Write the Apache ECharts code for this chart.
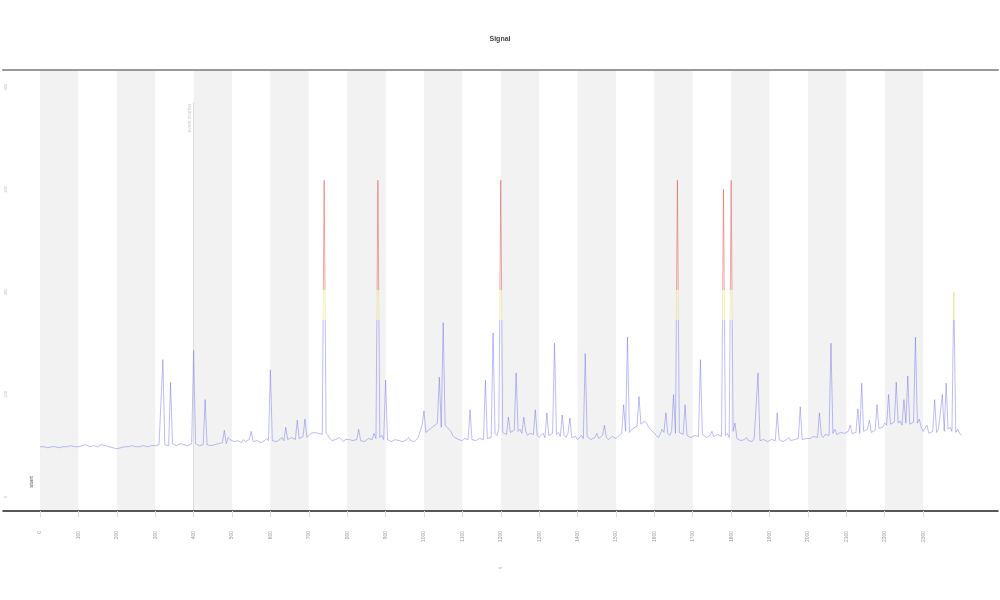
<!DOCTYPE html>
<html>
<head>
<meta charset="utf-8">
<title>Signal</title>
<script src="https://cdn.jsdelivr.net/npm/echarts@6/dist/echarts.min.js"></script>
<style>
  html, body { margin: 0; padding: 0; background: #fff; }
  #chart { width: 1000px; height: 600px; }
</style>
</head>
<body>
<div id="chart"></div>
<script>
// one reading every 5 units of t
var xStep = 5;
var readings = [
    49,48, 49,49, 48,49, 49,50, 49,49, 48,49, 49,48, 49,50, 50,49, 49,49,
    49,50, 50,49, 51,50, 49,49, 50,51, 49,50, 51,50, 50,49, 49,48, 48,47,
    47,47, 48,49, 49,48, 49,50, 50,49, 49,50, 49,49, 50,50, 49,50, 50,51,
    50,51, 51,50, 134,51, 52,50, 112,52, 51,50, 50,52, 52,51, 51,50, 50,52,
    143,52, 51,50, 50,51, 95,51, 52,50, 50,51, 51,52, 52,53, 65,52, 58,56,
    55,54, 53,55, 54,53, 56,54, 53,56, 64,54, 54,55, 55,53, 53,55, 57,55,
    124,55, 55,54, 54,56, 58,55, 68,56, 56,58, 57,56, 75,57, 58,59, 76,58,
    60,62, 61,63, 64,62, 62,61, 309,62, 60,57, 55,56, 56,55, 58,56, 54,56,
    55,56, 57,55, 54,56, 66,55, 56,54, 55,57, 58,56, 62,57, 309,58, 60,56,
    114,56, 55,54, 54,56, 57,55, 56,54, 53,56, 58,55, 55,54, 54,58, 57,70,
    84,63, 62,66, 67,69, 70,72, 117,68, 170,70, 68,66, 64,60, 58,57, 56,55,
    55,57, 57,56, 85,56, 56,55, 54,57, 58,56, 114,57, 57,58, 160,62, 60,66,
    309,63, 64,61, 78,63, 62,65, 121,64, 66,62, 78,64, 60,62, 63,61, 85,60,
    58,60, 62,58, 82,60, 60,62, 150,61, 63,59, 80,60, 58,62, 77,58, 57,59,
    56,58, 60,57, 140,59, 58,56, 55,58, 62,57, 57,60, 70,58, 56,57, 59,58,
    57,59, 60,62, 90,64, 156,63, 62,67, 66,69, 98,71, 70,74, 72,68, 66,65,
    62,60, 58,61, 66,63, 82,62, 60,64, 100,62, 309,63, 64,61, 90,60, 60,58,
    58,60, 60,59, 134,61, 62,58, 57,60, 64,59, 58,61, 60,59, 300,60, 62,58,
    309,64, 72,57, 56,55, 54,56, 58,55, 55,54, 57,56, 121,55, 55,56, 56,54,
    54,56, 57,55, 82,56, 55,54, 53,56, 58,55, 54,56, 56,57, 88,56, 55,57,
    58,57, 56,59, 60,58, 82,60, 58,61, 62,60, 150,62, 66,61, 60,63, 63,62,
    62,64, 70,62, 61,63, 86,62, 111,64, 64,66, 75,63, 62,65, 90,67, 66,68,
    72,70, 100,71, 70,73, 112,72, 74,70, 95,72, 118,71, 70,73, 156,72, 76,68,
    64,63, 70,62, 62,64, 95,63, 66,65, 100,64, 111,66, 68,64, 200,63, 66,62,
    60
];
var xTicks = [0, 100, 200, 300, 400, 500, 600, 700, 800, 900, 1000, 1100,
    1200, 1300, 1400, 1500, 1600, 1700, 1800, 1900, 2000, 2100, 2200, 2300];
var yTicks = [0, 100, 200, 300, 400];
var eventX = 400;
var eventTop = 385;
var eventName = 'event marker';

var seriesData = readings.map(function (v, i) { return [i * xStep, v]; });

var chartDom = document.getElementById('chart');
var chart = echarts.init(chartDom);

var yMin = -13.7;
var yMax = 416.6;

var option = {
    animation: false,
    title: {
        text: 'Signal',
        left: 'center',
        top: 31,
        textStyle: { fontSize: 7, fontWeight: 'bold', color: '#444' }
    },
    grid: {
        left: 3, right: 2, top: 70, bottom: 89,
        containLabel: false,
        outerBoundsMode: 'none'
    },
    visualMap: {
        show: false,
        type: 'piecewise',
        dimension: 1,
        seriesIndex: 0,
        pieces: [
            { lte: 173, color: '#6b6bea' },
            { gt: 173, lte: 202, color: '#e6d65a' },
            { gt: 202, color: '#e03c3c' }
        ]
    },
    xAxis: [{
        type: 'value',
        min: -96.4,
        max: 2495,
        name: 't',
        nameLocation: 'middle',
        nameGap: 56,
        nameRotate: 90,
        nameTextStyle: { fontSize: 6, color: '#999' },
        axisLine: { show: true, onZero: false, lineStyle: { color: '#222', width: 1.5 } },
        axisTick: { show: true, length: 6, customValues: xTicks, lineStyle: { color: '#ddd' } },
        axisLabel: {
            customValues: xTicks,
            rotate: 90,
            fontSize: 5,
            color: '#999',
            margin: 20,
            formatter: function (v) { return String(v); }
        },
        splitLine: { show: false },
        splitArea: { show: true, areaStyle: { color: ['#f2f2f2', 'rgba(255,255,255,0)'] } }
    }, {
        type: 'value',
        position: 'top',
        min: -96.4,
        max: 2495,
        axisLine: { show: true, onZero: false, lineStyle: { color: '#999', width: 2 } },
        axisTick: { show: false },
        axisLabel: { show: false },
        splitLine: { show: false }
    }],
    yAxis: {
        type: 'value',
        min: yMin,
        max: yMax,
        name: 'value',
        nameLocation: 'middle',
        nameGap: -4,
        nameTextStyle: { fontSize: 5, color: '#aaa' },
        axisLine: { show: false },
        axisTick: { show: false },
        axisLabel: {
            customValues: yTicks,
            inside: true,
            rotate: 90,
            fontSize: 4,
            color: '#bbb',
            margin: 1
        },
        splitLine: { show: false }
    },
    graphic: [{
        type: 'text',
        left: 28,
        top: 476,
        rotation: Math.PI / 2,
        style: { text: 'start', fontSize: 6, fill: '#555' }
    }],
    series: [{
        type: 'line',
        data: seriesData,
        showSymbol: false,
        lineStyle: { width: 0.6, opacity: 0.75 },
        markLine: {
            silent: true,
            symbol: 'none',
            lineStyle: { color: '#888', width: 0.5, type: 'solid', opacity: 0.5 },
            label: {
                position: 'insideEndTop',
                fontSize: 5,
                color: '#999',
                distance: 1,
                formatter: eventName
            },
            data: [[{ coord: [eventX, yMin] }, { coord: [eventX, eventTop] }]]
        }
    }]
};

chart.setOption(option);
</script>
</body>
</html>
